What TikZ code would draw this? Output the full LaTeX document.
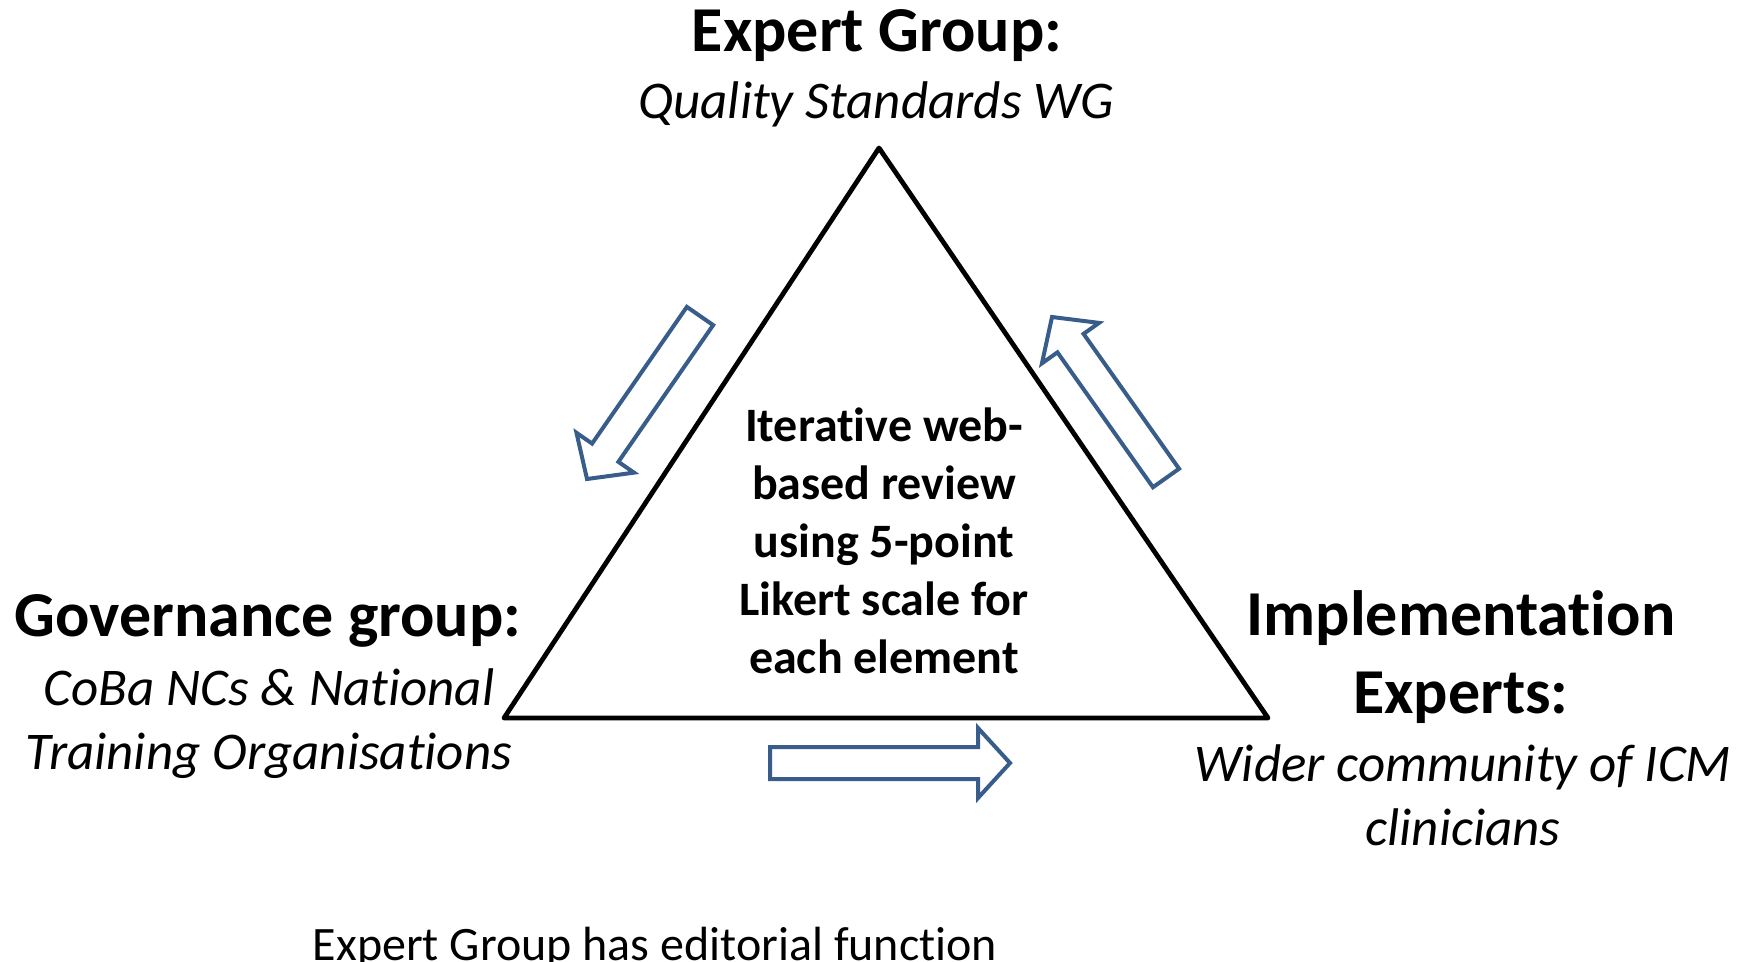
\documentclass[tikz,border=0pt]{standalone}
\usepackage{fontspec}
\setmainfont{Carlito}[Ligatures=NoCommon]
\usetikzlibrary{calc}
\definecolor{arrowblue}{HTML}{385D8A}
\tikzset{
  headtext/.style={font=\bfseries\fontsize{32}{39}\selectfont, align=center, inner sep=0pt},
  subtext/.style={font=\itshape\fontsize{26.5}{32}\selectfont, align=center, inner sep=0pt},
  reviewtext/.style={font=\bfseries\fontsize{24}{29}\selectfont, align=center, inner sep=0pt},
  notetext/.style={font=\fontsize{24}{30}\selectfont, inner sep=0pt},
  blockarrow/.style={draw=arrowblue, line width=2pt, line join=miter, fill=white},
}
% block arrow from tail to tip: #1 name, #2 tail, #3 tip
\newcommand{\flowarrow}[3]{%
  \coordinate (#1-h) at ($(#3)!16pt!(#2)$);
  \draw[blockarrow] ($(#2)!8pt!90:(#3)$) -- ($(#1-h)!8pt!90:(#3)$) -- ($(#1-h)!17.5pt!90:(#3)$) -- (#3)
    -- ($(#1-h)!17.5pt!-90:(#3)$) -- ($(#1-h)!8pt!-90:(#3)$) -- ($(#2)!8pt!-90:(#3)$) -- cycle;
}

\begin{document}
\begin{tikzpicture}[x=0.5pt, y=-0.5pt]
    \useasboundingbox (0,0) rectangle (1744,962);
    \coordinate (top) at (879,148); \coordinate (left) at (504,718); \coordinate (right) at (1268,718);
    \draw[line width=2.4pt, line join=round] (top) -- (left) -- (right) -- cycle;

    % multi-line nodes: base is the last line
    \node[reviewtext, anchor=base] (review) at (884,673) {Iterative web-\\based review\\using 5-point\\Likert scale for\\each element};

    \node[headtext, anchor=base] (expTitle) at (877,52) {Expert Group:};
    \node[subtext, anchor=base] (expSub) at (876,119) {Quality Standards WG};

    \node[headtext, anchor=base] (govTitle) at (268,636) {Governance group:};
    \node[subtext, anchor=base] (govSub) at (269,769) {CoBa NCs \& National\\Training Organisations};

    \node[headtext, anchor=base] (impTitle) at (1461,713) {Implementation\\Experts:};
    \node[subtext, anchor=base] (impSub) at (1463,845) {Wider community of ICM\\clinicians};

    \node[notetext, anchor=base] (note) at (655,960) {Expert Group has editorial function};

    \coordinate (govTail) at (700,316); \coordinate (govTip) at (587,479);
    \coordinate (impTail) at (1166,478); \coordinate (impTip) at (1052,317);
    \coordinate (botTail) at (770,763); \coordinate (botTip) at (1010,763);
    \flowarrow{govArrow}{govTail}{govTip}
    \flowarrow{impArrow}{impTail}{impTip}
    \flowarrow{botArrow}{botTail}{botTip}
\end{tikzpicture}
\end{document}
